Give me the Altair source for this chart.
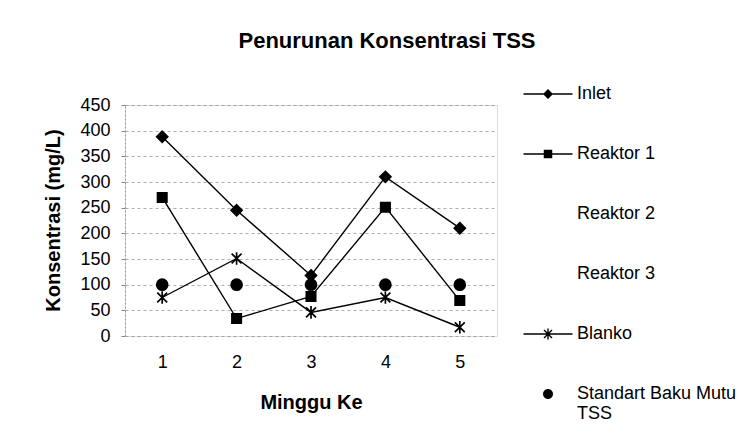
import altair as alt
import pandas as pd

# ---- data ----
weeks = [1, 2, 3, 4, 5]
inlet = [388, 245, 118, 310, 210]
reaktor_1 = [270, 34, 77, 251, 69]
blanko = [75, 151, 46, 75, 17]
standart = [100, 100, 100, 100, 100]
series_names = ["Inlet", "Reaktor 1", "Reaktor 2", "Reaktor 3", "Blanko",
                "Standart Baku Mutu TSS"]
line_series = ["Inlet", "Reaktor 1", "Blanko"]
y_ticks = [0, 50, 100, 150, 200, 250, 300, 350, 400, 450]

rows = []
for name, vals in [("Inlet", inlet), ("Reaktor 1", reaktor_1),
                   ("Blanko", blanko), ("Standart Baku Mutu TSS", standart)]:
    for w, v in zip(weeks, vals):
        rows.append({"series": name, "week": w, "value": v})
df = pd.DataFrame(rows)
legend_df = pd.DataFrame({"series": series_names})

FONT = "Liberation Sans"

# marker shapes used on the plot
DIAMOND = "M0,-1L1,0L0,1L-1,0Z"
SQUARE = "M-0.85,-0.85H0.85V0.85H-0.85Z"
STAR = "M0,-1.15V1.15M-0.9,-0.9L0.9,0.9M-0.9,0.9L0.9,-0.9"
plot_shapes = [DIAMOND, SQUARE, "circle", "circle", STAR, "circle"]

# legend symbols built from filled outlines (1 unit = 5 px)
LINE = "M-4.9,-0.13H4.9V0.13H-4.9Z"
STAR_FILLED = ("M-0.14,-1.1H0.14V1.1H-0.14Z"
               "M-0.701,-0.899L0.899,0.701L0.701,0.899L-0.899,-0.701Z"
               "M-0.899,0.701L0.701,-0.899L0.899,-0.701L-0.701,0.899Z")
CIRC = "M1,0A1,1,0,1,1,-1,0A1,1,0,1,1,1,0Z"
legend_shapes = [LINE + DIAMOND, LINE + SQUARE, "M0,0", "M0,0",
                 LINE + STAR_FILLED, CIRC]

x_enc = alt.X("week:O",
              scale=alt.Scale(type="point", padding=0.5),
              axis=alt.Axis(title="Minggu Ke", labelAngle=0, domain=False,
                            ticks=False, grid=False, labelFontSize=18,
                            labelPadding=17, labelFont=FONT,
                            titleFont=FONT, titleFontSize=20,
                            titleFontWeight="bold", titleY=66,
                            titleBaseline="middle", labelColor="black",
                            titleColor="black"))
y_enc = alt.Y("value:Q",
              scale=alt.Scale(domain=[0, 450], nice=False),
              axis=alt.Axis(title="Konsentrasi (mg/L)", values=y_ticks,
                            labelFontSize=18, labelFont=FONT,
                            labelPadding=11, tickSize=4, tickColor="#888",
                            domainColor="#999", domainDash=[2, 2],
                            gridColor="#999", gridDash=[3, 3],
                            gridOpacity=0.8, titleFont=FONT,
                            titleFontSize=20, titleFontWeight="bold",
                            titleX=-72, titleY=115, titleBaseline="middle",
                            labelColor="black", titleColor="black"))

lines = alt.Chart(df).transform_filter(
    alt.FieldOneOfPredicate(field="series", oneOf=line_series)
).mark_line(color="black", strokeWidth=1.4).encode(
    x=x_enc, y=y_enc, detail="series:N")

points = alt.Chart(df).mark_point(
    filled=True, fill="black", stroke="black", strokeWidth=1.7,
    size=121, opacity=1).encode(
    x=x_enc, y=y_enc,
    shape=alt.Shape("series:N",
                    scale=alt.Scale(domain=series_names, range=plot_shapes),
                    legend=None))

legend_layer = alt.Chart(legend_df).mark_point(
    filled=True, fill="black", size=100, opacity=0).encode(
    shape=alt.Shape("series:N",
                    scale=alt.Scale(domain=series_names, range=legend_shapes),
                    legend=alt.Legend(
                        title=None, orient="none", legendX=414, legendY=-20,
                        direction="vertical", symbolOpacity=1,
                        symbolFillColor="black", symbolSize=100,
                        labelFont=FONT, labelFontSize=18, labelColor="black",
                        labelOffset=20, rowPadding=42, labelLimit=400,
                        padding=0,
                        labelExpr="datum.label == 'Standart Baku Mutu TSS' ? ['Standart Baku Mutu', 'TSS'] : datum.label")))

chart = alt.layer(lines, points, legend_layer).resolve_scale(
    shape="independent"
).properties(
    width=372, height=231,
    title=alt.TitleParams("Penurunan Konsentrasi TSS", fontSize=22,
                          fontWeight="bold", font=FONT, anchor="middle",
                          dx=76, offset=32, color="black"),
    autosize="none",
    padding={"left": 117, "top": 97, "right": 242, "bottom": 88},
).configure_view(stroke=None).configure(background="white")

chart.save("out.html", embed_options={"renderer": "svg", "actions": False})
